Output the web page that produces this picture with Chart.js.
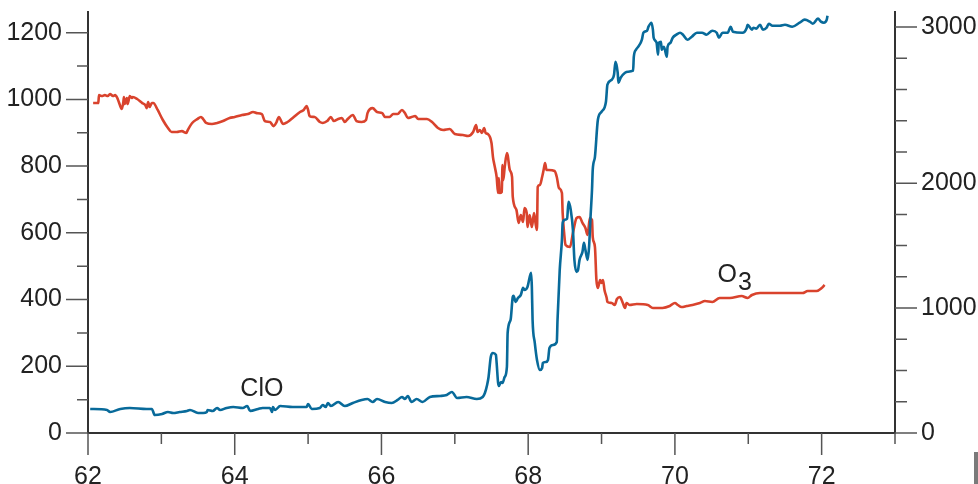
<!DOCTYPE html>
<html>
<head>
<meta charset="utf-8">
<script src="https://cdn.jsdelivr.net/npm/chart.js@4.4.0/dist/chart.umd.min.js"></script>
<style>
  html, body { margin: 0; padding: 0; background: #fff; }
  #wrap { width: 978px; height: 484px; position: relative; }
</style>
</head>
<body>
<div id="wrap"><canvas id="flight" width="978" height="484"></canvas></div>
<script>
// ClO (pptv, left axis) against latitude
const cloLat = [62.03, 62.26, 62.30, 62.44, 62.57, 62.80, 62.87, 62.91, 63.01, 63.09, 63.16, 63.25, 63.35, 63.39, 63.50, 63.57, 63.62, 63.63, 63.70, 63.76, 63.80, 63.89, 63.98, 64.11, 64.17, 64.21, 64.32, 64.38, 64.48, 64.51, 64.52, 64.55, 64.62, 64.79, 64.98, 65.00, 65.05, 65.16, 65.20, 65.24, 65.27, 65.31, 65.41, 65.50, 65.61, 65.73, 65.81, 65.88, 65.94, 66.05, 66.14, 66.22, 66.28, 66.32, 66.36, 66.41, 66.48, 66.56, 66.66, 66.80, 66.89, 66.96, 67.03, 67.16, 67.30, 67.38, 67.41, 67.44, 67.46, 67.49, 67.52, 67.56, 67.57, 67.59, 67.60, 67.63, 67.65, 67.68, 67.71, 67.72, 67.76, 67.79, 67.80, 67.83, 67.86, 67.90, 67.93, 67.95, 67.99, 68.04, 68.05, 68.06, 68.09, 68.12, 68.16, 68.19, 68.20, 68.24, 68.27, 68.29, 68.34, 68.39, 68.40, 68.43, 68.46, 68.47, 68.50, 68.53, 68.55, 68.58, 68.61, 68.63, 68.66, 68.68, 68.70, 68.74, 68.76, 68.78, 68.81, 68.83, 68.85, 68.87, 68.88, 68.91, 68.95, 69.00, 69.06, 69.08, 69.14, 69.17, 69.19, 69.22, 69.23, 69.26, 69.32, 69.36, 69.43, 69.44, 69.47, 69.51, 69.55, 69.57, 69.62, 69.64, 69.68, 69.70, 69.71, 69.75, 69.77, 69.78, 69.81, 69.82, 69.85, 69.89, 69.90, 69.94, 69.97, 70.02, 70.07, 70.11, 70.17, 70.23, 70.30, 70.37, 70.43, 70.51, 70.57, 70.60, 70.65, 70.72, 70.76, 70.79, 70.92, 70.98, 70.99, 71.05, 71.07, 71.11, 71.16, 71.20, 71.25, 71.28, 71.33, 71.43, 71.50, 71.60, 71.70, 71.77, 71.84, 71.88, 71.95, 71.99, 72.03, 72.07, 72.08];
const cloPpt = [72, 69, 63, 72, 75, 72, 72, 54, 57, 63, 60, 63, 66, 69, 60, 60, 63, 69, 66, 75, 69, 75, 78, 75, 81, 66, 72, 75, 75, 63, 78, 69, 81, 78, 78, 87, 72, 75, 84, 78, 90, 81, 93, 81, 90, 99, 102, 93, 102, 93, 90, 99, 108, 102, 111, 93, 102, 93, 108, 111, 114, 123, 105, 108, 102, 108, 120, 144, 168, 228, 240, 234, 210, 150, 141, 153, 150, 168, 198, 300, 339, 408, 411, 393, 405, 414, 435, 429, 438, 480, 438, 339, 270, 219, 189, 195, 210, 213, 219, 255, 264, 273, 339, 489, 579, 630, 639, 642, 693, 669, 609, 519, 483, 489, 519, 543, 570, 549, 519, 558, 648, 729, 789, 828, 939, 963, 993, 1044, 1059, 1074, 1113, 1080, 1050, 1065, 1080, 1083, 1086, 1128, 1149, 1161, 1179, 1200, 1206, 1218, 1230, 1209, 1185, 1170, 1134, 1170, 1173, 1149, 1158, 1128, 1158, 1170, 1185, 1194, 1200, 1194, 1179, 1188, 1200, 1200, 1194, 1206, 1200, 1185, 1200, 1200, 1218, 1203, 1200, 1215, 1224, 1209, 1215, 1212, 1224, 1209, 1215, 1227, 1221, 1221, 1224, 1218, 1230, 1239, 1233, 1227, 1242, 1233, 1230, 1239, 1251];

// O3 (ppbv, right axis) against latitude
const o3Lat = [62.07, 62.14, 62.15, 62.19, 62.23, 62.27, 62.30, 62.34, 62.37, 62.40, 62.42, 62.46, 62.48, 62.49, 62.50, 62.53, 62.54, 62.57, 62.60, 62.61, 62.67, 62.74, 62.78, 62.80, 62.82, 62.84, 62.87, 62.89, 62.95, 63.02, 63.09, 63.14, 63.21, 63.28, 63.34, 63.36, 63.42, 63.49, 63.54, 63.57, 63.61, 63.69, 63.76, 63.84, 63.93, 64.00, 64.10, 64.18, 64.25, 64.30, 64.37, 64.41, 64.48, 64.53, 64.57, 64.60, 64.66, 64.72, 64.79, 64.89, 64.94, 64.98, 65.00, 65.02, 65.09, 65.16, 65.20, 65.26, 65.31, 65.35, 65.41, 65.46, 65.50, 65.54, 65.61, 65.66, 65.73, 65.79, 65.81, 65.88, 65.94, 66.01, 66.05, 66.11, 66.16, 66.22, 66.28, 66.32, 66.36, 66.41, 66.46, 66.50, 66.62, 66.69, 66.77, 66.84, 66.93, 67.00, 67.11, 67.18, 67.25, 67.29, 67.31, 67.34, 67.37, 67.40, 67.42, 67.45, 67.50, 67.52, 67.54, 67.57, 67.59, 67.60, 67.61, 67.64, 67.65, 67.66, 67.68, 67.71, 67.72, 67.75, 67.78, 67.79, 67.84, 67.87, 67.90, 67.93, 67.95, 67.98, 67.99, 68.02, 68.05, 68.08, 68.10, 68.12, 68.13, 68.16, 68.19, 68.21, 68.23, 68.25, 68.28, 68.36, 68.39, 68.42, 68.46, 68.47, 68.49, 68.51, 68.57, 68.61, 68.66, 68.70, 68.74, 68.78, 68.81, 68.84, 68.87, 68.88, 68.91, 68.93, 68.95, 68.98, 69.00, 69.02, 69.04, 69.07, 69.08, 69.14, 69.18, 69.21, 69.25, 69.29, 69.32, 69.34, 69.38, 69.48, 69.63, 69.70, 69.83, 69.93, 70.00, 70.04, 70.09, 70.16, 70.24, 70.34, 70.41, 70.51, 70.61, 70.75, 70.91, 70.99, 71.05, 71.16, 71.33, 71.60, 71.74, 71.81, 71.93, 72.00, 72.04];
const o3Ppb = [2438, 2438, 2497, 2490, 2497, 2490, 2505, 2490, 2497, 2475, 2446, 2394, 2438, 2483, 2431, 2475, 2431, 2490, 2475, 2483, 2468, 2438, 2424, 2401, 2446, 2409, 2438, 2438, 2387, 2313, 2254, 2224, 2224, 2231, 2217, 2239, 2291, 2320, 2335, 2320, 2291, 2283, 2291, 2305, 2328, 2335, 2350, 2357, 2372, 2364, 2357, 2305, 2298, 2268, 2298, 2335, 2283, 2298, 2328, 2372, 2387, 2416, 2387, 2342, 2335, 2298, 2291, 2305, 2335, 2305, 2320, 2328, 2298, 2320, 2350, 2305, 2298, 2313, 2364, 2401, 2372, 2364, 2335, 2335, 2357, 2357, 2387, 2364, 2328, 2335, 2342, 2320, 2320, 2298, 2254, 2239, 2246, 2209, 2202, 2195, 2224, 2276, 2224, 2239, 2217, 2254, 2217, 2209, 2143, 2039, 1980, 1892, 1773, 1884, 1773, 1781, 1980, 1869, 1965, 2069, 2054, 1943, 1892, 1744, 1648, 1552, 1611, 1559, 1663, 1626, 1522, 1611, 1522, 1626, 1552, 1500, 1818, 1833, 1892, 1943, 1995, 1943, 1943, 1936, 1892, 1810, 1773, 1626, 1478, 1389, 1374, 1478, 1589, 1596, 1552, 1515, 1463, 1589, 1574, 1448, 1374, 1131, 1071, 1131, 1108, 1131, 1057, 998, 968, 961, 946, 990, 1005, 961, 924, 961, 946, 953, 946, 924, 924, 938, 961, 946, 931, 938, 946, 961, 975, 968, 998, 998, 1012, 998, 1020, 1034, 1034, 1034, 1034, 1049, 1049, 1071, 1094];

// axis ticks
const latTicks = [62, 63, 64, 65, 66, 67, 68, 69, 70, 71, 72, 73];
const latLabels = ['62', '', '64', '', '66', '', '68', '', '70', '', '72', ''];
const cloTicks = [0, 100, 200, 300, 400, 500, 600, 700, 800, 900, 1000, 1100, 1200];
const cloLabels = ['0', '', '200', '', '400', '', '600', '', '800', '', '1000', '', '1200'];
const o3Ticks = [0, 231, 462, 692, 923, 1154, 1385, 1615, 1846, 2077, 2308, 2538, 2769, 3000];
const o3Labels = ['0', '', '', '', '1000', '', '', '', '2000', '', '', '', '', '3000'];

const RED = '#d9432d';
const BLUE = '#086a9a';
const INK = '#222';
const tickFont = { family: '"Liberation Sans", Arial, Helvetica, sans-serif', size: 25 };

function pts(xs, ys) {
  return xs.map((x, i) => ({ x: x, y: ys[i] }));
}

// no extra room for the end labels, the chart area is fixed
function fixSide(size, key) {
  return s => {
    s[key] = size;
    s.paddingTop = 0; s.paddingBottom = 0;
    s.paddingLeft = 0; s.paddingRight = 0;
  };
}

// draw the tick marks by hand so minor ones can be shorter
const tickMarks = {
  id: 'tickMarks',
  afterDraw(chart) {
    const c = chart.ctx;
    const a = chart.chartArea;
    const sx = chart.scales.x, sy = chart.scales.y, sy2 = chart.scales.y2;
    c.save();
    c.strokeStyle = '#555';
    c.lineWidth = 1.5;
    c.beginPath();
    sy.ticks.forEach(t => {
      const p = sy.getPixelForValue(t.value);
      const len = t.label ? 22 : 11;
      c.moveTo(a.left - len, p); c.lineTo(a.left, p);
    });
    sy2.ticks.forEach(t => {
      const p = sy2.getPixelForValue(t.value);
      const len = t.label ? 22 : 12;
      c.moveTo(a.right, p); c.lineTo(a.right + len, p);
    });
    sx.ticks.forEach(t => {
      const p = sx.getPixelForValue(t.value);
      const len = t.label ? 22 : 11;
      c.moveTo(p, a.bottom); c.lineTo(p, a.bottom + len);
    });
    c.stroke();

    // series labels, anchored in data units
    c.fillStyle = INK;
    c.font = '25px "Liberation Sans", Arial, sans-serif';
    c.textBaseline = 'alphabetic';
    c.textAlign = 'center';
    c.fillText('ClO', sx.getPixelForValue(64.37), sy.getPixelForValue(111));
    c.textAlign = 'left';
    const ox = sx.getPixelForValue(70.58), oy = sy.getPixelForValue(453);
    c.fillText('O', ox, oy);
    const ow = c.measureText('O').width;
    c.fillText('3', ox + ow + 1, oy + 8);

    // stray edge mark from the scanned original
    c.fillStyle = '#7a7a7a';
    c.fillRect(974, 452, 4, 32);
    c.restore();
  }
};

const ctx = document.getElementById('flight').getContext('2d');

new Chart(ctx, {
  type: 'line',
  data: {
    datasets: [{
      label: 'ClO',
      data: pts(cloLat, cloPpt),
      yAxisID: 'y',
      borderColor: BLUE,
      borderWidth: 2.6,
      pointRadius: 0,
      cubicInterpolationMode: 'monotone'
    }, {
      label: 'O3',
      data: pts(o3Lat, o3Ppb),
      yAxisID: 'y2',
      borderColor: RED,
      borderWidth: 2.6,
      pointRadius: 0,
      cubicInterpolationMode: 'monotone'
    }]
  },
  options: {
    responsive: false,
    animation: false,
    devicePixelRatio: 1,
    layout: { padding: { top: 12, left: 0, right: 0, bottom: 0 } },
    plugins: {
      legend: { display: false },
      tooltip: { enabled: false }
    },
    scales: {
      x: {
        type: 'linear',
        min: 62,
        max: 73,
        afterBuildTicks: s => { s.ticks = latTicks.map(v => ({ value: v })); },
        afterFit: fixSide(51, 'height'),
        grid: { display: false, drawTicks: false },
        border: { display: true, color: '#333', width: 2 },
        ticks: {
          autoSkip: false,
          maxRotation: 0,
          padding: 29,
          color: INK,
          font: tickFont,
          callback: (v, i) => latLabels[i]
        }
      },
      y: {
        position: 'left',
        min: 0,
        max: 1262,
        afterBuildTicks: s => { s.ticks = cloTicks.map(v => ({ value: v })); },
        afterFit: fixSide(88, 'width'),
        grid: { display: false, drawTicks: false },
        border: { display: true, color: '#333', width: 2 },
        ticks: {
          autoSkip: false,
          padding: 26,
          color: INK,
          font: tickFont,
          callback: (v, i) => cloLabels[i]
        }
      },
      y2: {
        position: 'right',
        min: 0,
        max: 3111,
        afterBuildTicks: s => { s.ticks = o3Ticks.map(v => ({ value: v })); },
        afterFit: fixSide(83, 'width'),
        grid: { display: false, drawTicks: false },
        border: { display: true, color: '#333', width: 2 },
        ticks: {
          autoSkip: false,
          padding: 26,
          color: INK,
          font: tickFont,
          callback: (v, i) => o3Labels[i]
        }
      }
    }
  },
  plugins: [tickMarks]
});
</script>
</body>
</html>
